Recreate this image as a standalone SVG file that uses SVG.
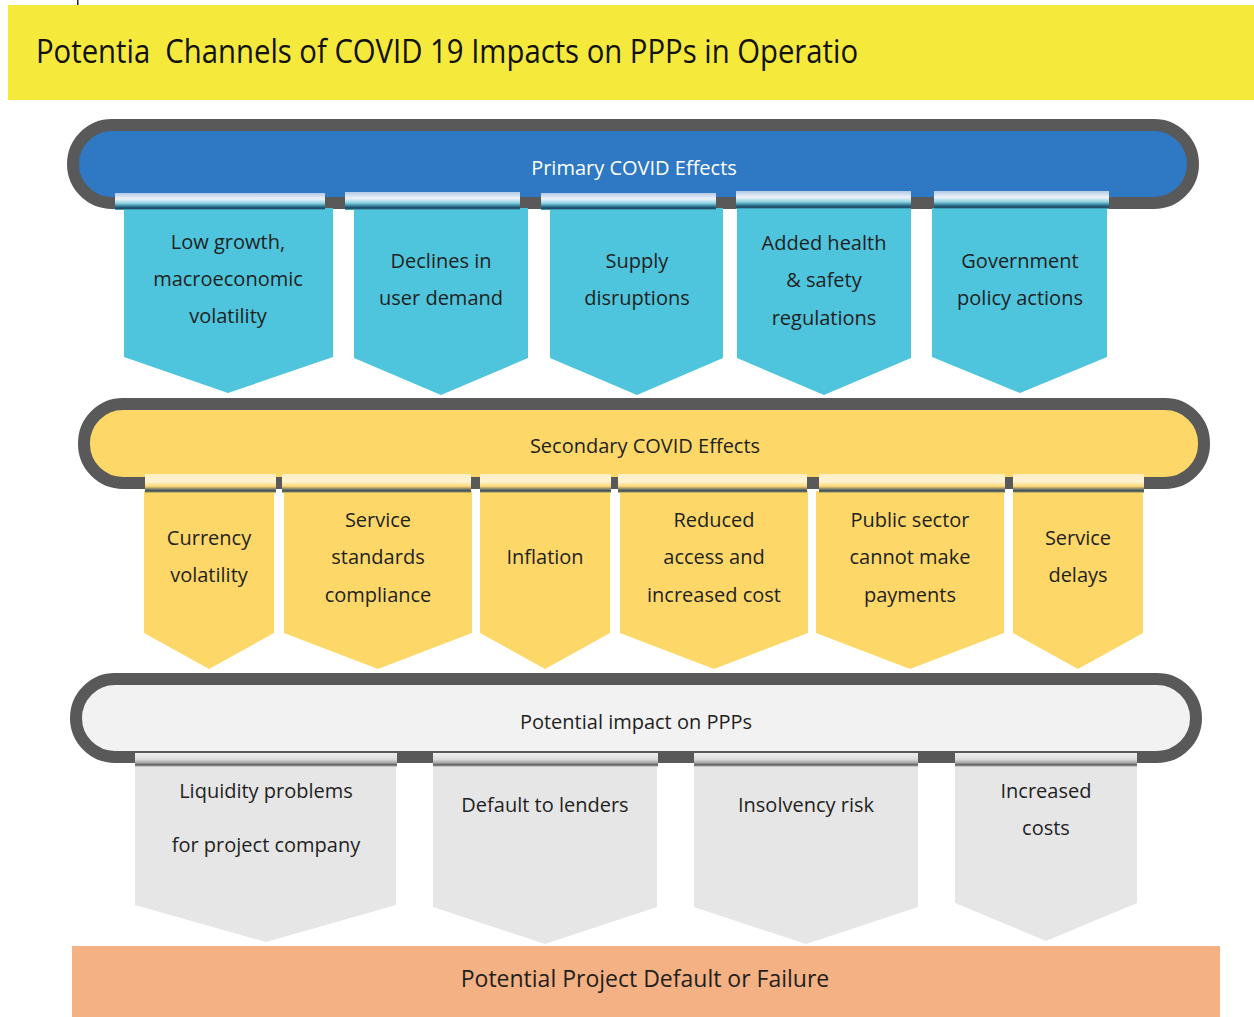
<svg xmlns="http://www.w3.org/2000/svg" width="1254" height="1017" viewBox="0 0 1254 1017">
<defs>
<style>
text{font-family:"Open Sans","Liberation Sans",sans-serif;text-anchor:middle;fill:#1f1f1f;font-size:20px}
.band{stroke:#595959;stroke-width:12}
.pri{fill:#4EC5DC}
.sec{fill:#FDD868}
.imp{fill:#E6E6E6}
</style>
<linearGradient id="gP" x1="0" y1="0" x2="0" y2="1">
<stop offset="0" stop-color="#b3c9e6"/><stop offset="0.35" stop-color="#eef3f9"/><stop offset="0.6" stop-color="#8fd3e4"/><stop offset="0.78" stop-color="#2f7e99"/><stop offset="0.9" stop-color="#1b3d5a"/><stop offset="1" stop-color="#4EC5DC"/>
</linearGradient>
<linearGradient id="gS" x1="0" y1="0" x2="0" y2="1">
<stop offset="0" stop-color="#fdeec3"/><stop offset="0.4" stop-color="#fff3d2"/><stop offset="0.65" stop-color="#fbd774"/><stop offset="0.8" stop-color="#7b7a66"/><stop offset="0.9" stop-color="#2d4a5c"/><stop offset="1" stop-color="#FDD868"/>
</linearGradient>
<linearGradient id="gI" x1="0" y1="0" x2="0" y2="1">
<stop offset="0" stop-color="#efefef"/><stop offset="0.45" stop-color="#dcdcdc"/><stop offset="0.7" stop-color="#a8a8a8"/><stop offset="0.85" stop-color="#595959"/><stop offset="1" stop-color="#E6E6E6"/>
</linearGradient>
</defs>

<g id="title">
<rect x="77" y="0" width="1.5" height="7" fill="#222"/>
<rect x="8" y="5" width="1246" height="95" fill="#F5E93C"/>
<text x="36" y="63" xml:space="preserve" style="text-anchor:start;font-size:32px;fill:#111;white-space:pre" textLength="822" lengthAdjust="spacingAndGlyphs">Potentia  Channels of COVID 19 Impacts on PPPs in Operatio</text>
</g>

<g id="primary-band">
<rect class="band" x="73" y="125" width="1120" height="78" rx="39" fill="#2E78C4"/>
<text x="634" y="175" style="fill:#ffffff">Primary COVID Effects</text>
</g>

<g id="p1"><polygon class="pri" points="124,208 333,208 333,357 228,393 124,357"/><rect x="115" y="193" width="210" height="17" fill="url(#gP)"/>
<text x="228" y="249">Low growth,</text><text x="228" y="286">macroeconomic</text><text x="228" y="323">volatility</text></g>
<g id="p2"><polygon class="pri" points="354,208 528,208 528,358 441,395 354,358"/><rect x="345" y="192" width="175" height="18" fill="url(#gP)"/>
<text x="441" y="268">Declines in</text><text x="441" y="305">user demand</text></g>
<g id="p3"><polygon class="pri" points="550,208 723,208 723,358 637,395 550,358"/><rect x="541" y="193" width="175" height="17" fill="url(#gP)"/>
<text x="637" y="268">Supply</text><text x="637" y="305">disruptions</text></g>
<g id="p4"><polygon class="pri" points="737,208 911,208 911,358 824,395 737,358"/><rect x="736" y="191" width="175" height="18" fill="url(#gP)"/>
<text x="824" y="250">Added health</text><text x="824" y="287">&amp; safety</text><text x="824" y="325">regulations</text></g>
<g id="p5"><polygon class="pri" points="932,208 1107,208 1107,357 1020,393 932,357"/><rect x="934" y="191" width="175" height="18" fill="url(#gP)"/>
<text x="1020" y="268">Government</text><text x="1020" y="305">policy actions</text></g>

<g id="secondary-band">
<rect class="band" x="84" y="404" width="1120" height="79" rx="39" fill="#FDD868"/>
<text x="645" y="453">Secondary COVID Effects</text>
</g>

<g id="s1"><polygon class="sec" points="144,491 274,491 274,633 209,669 144,633"/><rect x="145" y="474" width="131" height="19" fill="url(#gS)"/>
<text x="209" y="545">Currency</text><text x="209" y="582">volatility</text></g>
<g id="s2"><polygon class="sec" points="284,491 472,491 472,633 378,669 284,633"/><rect x="282" y="474" width="189" height="19" fill="url(#gS)"/>
<text x="378" y="527">Service</text><text x="378" y="564">standards</text><text x="378" y="602">compliance</text></g>
<g id="s3"><polygon class="sec" points="480,491 610,491 610,633 545,669 480,633"/><rect x="480" y="474" width="131" height="19" fill="url(#gS)"/>
<text x="545" y="564">Inflation</text></g>
<g id="s4"><polygon class="sec" points="620,491 808,491 808,633 714,669 620,633"/><rect x="618" y="474" width="189" height="19" fill="url(#gS)"/>
<text x="714" y="527">Reduced</text><text x="714" y="564">access and</text><text x="714" y="602">increased cost</text></g>
<g id="s5"><polygon class="sec" points="816,491 1004,491 1004,633 910,669 816,633"/><rect x="819" y="474" width="186" height="19" fill="url(#gS)"/>
<text x="910" y="527">Public sector</text><text x="910" y="564">cannot make</text><text x="910" y="602">payments</text></g>
<g id="s6"><polygon class="sec" points="1013,491 1143,491 1143,633 1078,669 1013,633"/><rect x="1013" y="474" width="131" height="19" fill="url(#gS)"/>
<text x="1078" y="545">Service</text><text x="1078" y="582">delays</text></g>

<g id="impact-band">
<rect class="band" x="76" y="679" width="1120" height="78" rx="39" fill="#F2F2F2"/>
<text x="636" y="729">Potential impact on PPPs</text>
</g>

<g id="i1"><polygon class="imp" points="135,765 396,765 396,905 266,942 135,905"/><rect x="135" y="753" width="262" height="14" fill="url(#gI)"/>
<text x="266" y="798">Liquidity problems</text><text x="266" y="852">for project company</text></g>
<g id="i2"><polygon class="imp" points="433,765 657,765 657,907 545,944 433,907"/><rect x="433" y="753" width="225" height="14" fill="url(#gI)"/>
<text x="545" y="812">Default to lenders</text></g>
<g id="i3"><polygon class="imp" points="694,765 918,765 918,907 806,944 694,907"/><rect x="694" y="753" width="224" height="14" fill="url(#gI)"/>
<text x="806" y="812">Insolvency risk</text></g>
<g id="i4"><polygon class="imp" points="955,765 1137,765 1137,903 1046,941 955,903"/><rect x="955" y="753" width="182" height="14" fill="url(#gI)"/>
<text x="1046" y="798">Increased</text><text x="1046" y="835">costs</text></g>

<g id="outcome">
<rect x="72" y="946" width="1148" height="71" fill="#F4B183"/>
<text x="645" y="987" style="font-size:23px">Potential Project Default or Failure</text>
</g>
</svg>
